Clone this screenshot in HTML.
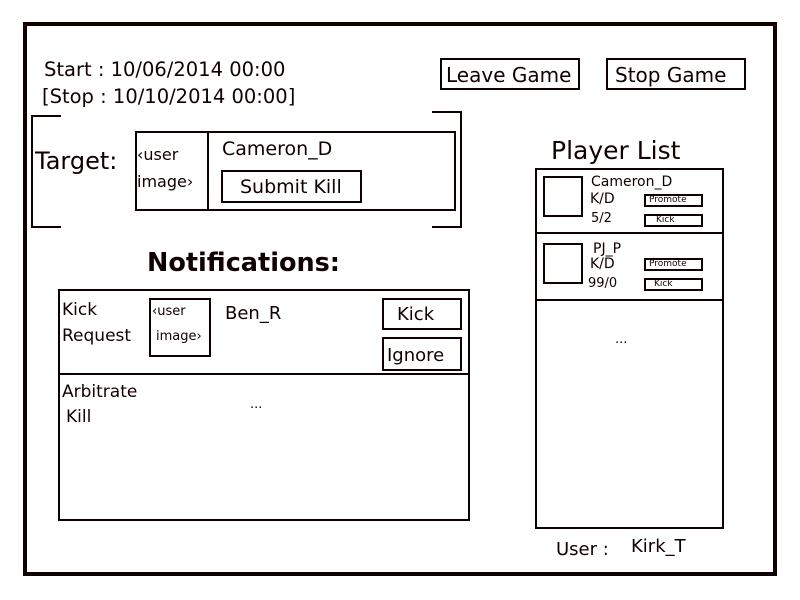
<!DOCTYPE html>
<html><head><meta charset="utf-8"><style>
body{margin:0;width:800px;height:600px;background:#fff;position:relative;overflow:hidden;font-family:"DejaVu Sans","Liberation Sans",sans-serif;color:#100}
div{position:absolute;box-sizing:border-box}
.b{border:2px solid #100}
.t{white-space:nowrap;line-height:1}
</style></head><body>
<div class="b" style="left:23px;top:22px;width:754px;height:554px;border-width:4px"></div>
<div class="t" style="left:44px;top:60px;font-size:19.5px">Start : 10/06/2014 00:00</div>
<div class="t" style="left:42px;top:87px;font-size:19.5px">[Stop : 10/10/2014 00:00]</div>
<div class="b t" style="left:440px;top:58px;width:140px;height:32px;font-size:20px;padding:5px 0 0 4px">Leave Game</div>
<div class="b t" style="left:606px;top:58px;width:140px;height:32px;font-size:20px;padding:5px 0 0 7px">Stop Game</div>
<div style="left:31px;top:115px;width:30px;height:113px;border:2px solid #100;border-right:none"></div>
<div style="left:432px;top:111px;width:30px;height:117px;border:2px solid #100;border-left:none"></div>
<div class="t" style="left:35px;top:149px;font-size:24px">Target:</div>
<div class="b" style="left:135px;top:131px;width:321px;height:80px"></div>
<div style="left:207px;top:131px;width:2px;height:80px;background:#100"></div>
<div class="t" style="left:137px;top:147px;font-size:16px">‹user</div>
<div class="t" style="left:137px;top:174px;font-size:16px">image›</div>
<div class="t" style="left:222px;top:140px;font-size:19px">Cameron_D</div>
<div class="b t" style="left:221px;top:170px;width:141px;height:33px;font-size:19px;padding:6px 0 0 17px">Submit Kill</div>
<div class="t" style="left:147px;top:251px;font-size:25.5px;font-weight:bold">Notifications:</div>
<div class="b" style="left:58px;top:289px;width:412px;height:232px"></div>
<div style="left:58px;top:373px;width:412px;height:2px;background:#100"></div>
<div class="t" style="left:62px;top:302px;font-size:17px">Kick</div>
<div class="t" style="left:62px;top:328px;font-size:17px">Request</div>
<div class="b" style="left:149px;top:298px;width:62px;height:59px"></div>
<div class="t" style="left:152px;top:305px;font-size:13px">‹user</div>
<div class="t" style="left:156px;top:330px;font-size:13px">image›</div>
<div class="t" style="left:225px;top:305px;font-size:18px">Ben_R</div>
<div class="b t" style="left:382px;top:298px;width:80px;height:32px;font-size:18px;padding:6px 0 0 13px">Kick</div>
<div class="b t" style="left:382px;top:337px;width:80px;height:34px;font-size:18px;padding:8px 0 0 3px">Ignore</div>
<div class="t" style="left:62px;top:384px;font-size:17px">Arbitrate</div>
<div class="t" style="left:66px;top:409px;font-size:17px">Kill</div>
<div class="t" style="left:250px;top:398px;font-size:13px">...</div>
<div class="t" style="left:551px;top:138px;font-size:25px">Player List</div>
<div class="b" style="left:535px;top:168px;width:189px;height:361px"></div>
<div style="left:535px;top:232px;width:189px;height:2px;background:#100"></div>
<div style="left:535px;top:299px;width:189px;height:2px;background:#100"></div>
<div class="b" style="left:543px;top:176px;width:40px;height:41px"></div>
<div class="t" style="left:591px;top:175px;font-size:14px">Cameron_D</div>
<div class="t" style="left:590px;top:192px;font-size:14px">K/D</div>
<div class="t" style="left:591px;top:212px;font-size:13px">5/2</div>
<div class="b t" style="left:644px;top:194px;width:59px;height:13px;font-size:9px;padding:0 0 0 3px">Promote</div>
<div class="b t" style="left:644px;top:214px;width:59px;height:13px;font-size:9px;padding:0 0 0 10px">Kick</div>
<div class="b" style="left:543px;top:243px;width:40px;height:41px"></div>
<div class="t" style="left:593px;top:242px;font-size:14px">PJ_P</div>
<div class="t" style="left:590px;top:257px;font-size:14px">K/D</div>
<div class="t" style="left:588px;top:277px;font-size:13px">99/0</div>
<div class="b t" style="left:644px;top:258px;width:59px;height:13px;font-size:9px;padding:0 0 0 3px">Promote</div>
<div class="b t" style="left:644px;top:278px;width:59px;height:13px;font-size:9px;padding:0 0 0 8px">Kick</div>
<div class="t" style="left:615px;top:333px;font-size:13px">...</div>
<div class="t" style="left:556px;top:541px;font-size:18px">User :</div>
<div class="t" style="left:631px;top:538px;font-size:18px">Kirk_T</div>
</body></html>
